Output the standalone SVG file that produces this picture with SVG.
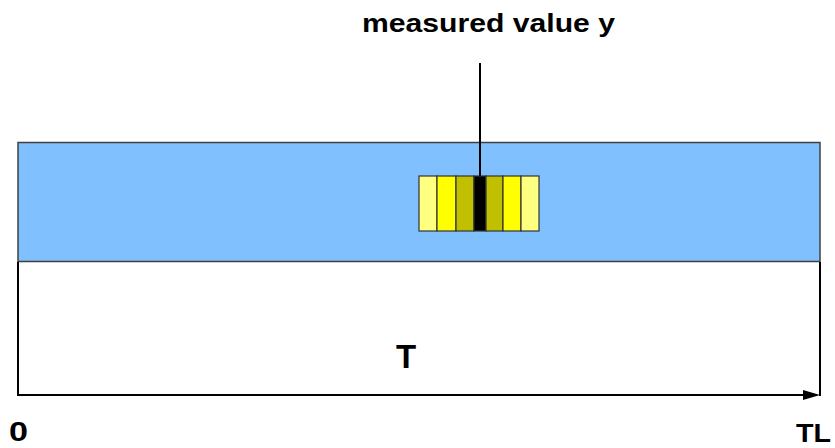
<svg xmlns="http://www.w3.org/2000/svg" width="835" height="448" viewBox="0 0 835 448">
<style>
.lbl{font-family:"Liberation Sans",Arial,sans-serif;font-weight:bold;fill:#000}
.bar{stroke:#333;stroke-width:1.2}
.ln{stroke:#000;stroke-width:2;fill:none}
</style>
<rect width="835" height="448" fill="#fff"/>
<g id="band">
<rect x="18" y="142.5" width="802" height="119" fill="#80C0FF" stroke="#404040" stroke-width="1.5"/>
</g>
<g id="bars">
<rect class="bar" x="419" y="176" width="18" height="55" fill="#FFFF80"/>
<rect class="bar" x="437" y="176" width="19" height="55" fill="#FFFF00"/>
<rect class="bar" x="456" y="176" width="18" height="55" fill="#C0C000"/>
<rect class="bar" x="474" y="176" width="12" height="55" fill="#000"/>
<rect class="bar" x="486" y="176" width="17" height="55" fill="#C0C000"/>
<rect class="bar" x="503" y="176" width="18" height="55" fill="#FFFF00"/>
<rect class="bar" x="521" y="176" width="18" height="55" fill="#FFFF80"/>
</g>
<g id="connectors">
<line class="ln" x1="480" y1="63" x2="480" y2="176"/>
<line class="ln" x1="18" y1="262" x2="18" y2="396"/>
<line class="ln" x1="820" y1="262" x2="820" y2="396"/>
<line class="ln" x1="18" y1="395" x2="806" y2="395"/>
<polygon points="820,395 803,390 803,400" fill="#000"/>
</g>
<g id="labels">
<text class="lbl" x="362" y="32" font-size="26" textLength="253" lengthAdjust="spacingAndGlyphs">measured value y</text>
<text class="lbl" x="406" y="368" font-size="33" text-anchor="middle">T</text>
<text class="lbl" x="9" y="441" font-size="28" textLength="19" lengthAdjust="spacingAndGlyphs">0</text>
<text class="lbl" x="796" y="442" font-size="26" textLength="35" lengthAdjust="spacingAndGlyphs">TL</text>
</g>
</svg>
